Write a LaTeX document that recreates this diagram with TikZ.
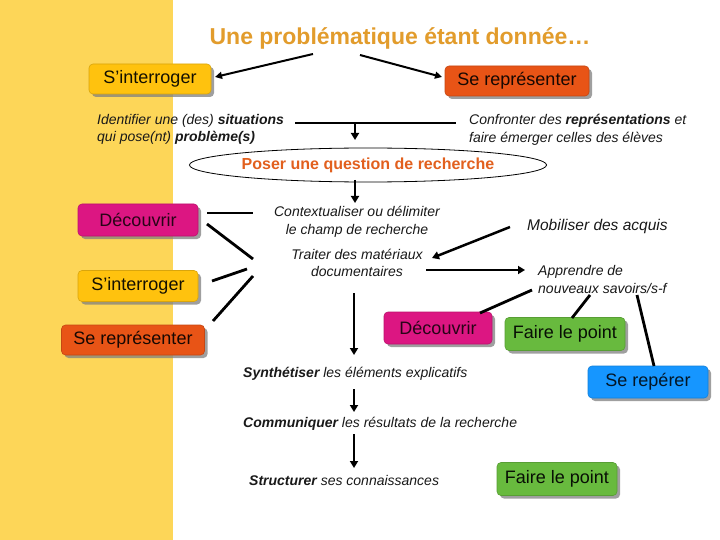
\documentclass[tikz,border=0pt]{standalone}
\usepackage{fontspec}
\setmainfont{Liberation Sans}
\usetikzlibrary{arrows.meta,shadows,shapes.geometric}
\definecolor{band}{RGB}{253,214,88}
\definecolor{titlec}{RGB}{226,156,44}
\definecolor{yel}{RGB}{255,194,14}
\definecolor{ora}{RGB}{232,84,22}
\definecolor{pnk}{RGB}{220,22,130}
\definecolor{grn}{RGB}{104,186,62}
\definecolor{blu}{RGB}{22,150,255}
\definecolor{poser}{RGB}{226,96,30}
\tikzset{
  box/.style={rounded corners=4pt, inner sep=0pt, line width=0.6pt,
    font=\fontsize{18}{20}\selectfont,
    drop shadow={shadow xshift=3pt, shadow yshift=-3pt, fill=black!50, opacity=0.75}},
  ybox/.style={box, fill=yel, draw=yel!85!black, text=black!92!yel},
  obox/.style={box, fill=ora, draw=ora!85!black, text=black!90!ora},
  pbox/.style={box, fill=pnk, draw=pnk!85!black, text=black!82!pnk},
  gbox/.style={box, fill=grn, draw=grn!85!black, text=black!92!grn},
  bbox/.style={box, fill=blu, draw=blu!85!black, text=black!85!blu},
  itx/.style={font=\fontsize{14}{16}\selectfont\itshape, inner sep=0pt, anchor=base west, text=black!90},
  itc/.style={itx, anchor=base},
  conn/.style={line width=2.8pt},
  arr/.style={line width=2.5pt, -{Triangle[length=7pt,width=8pt]}},
  tarr/.style={line width=2pt, -{Triangle[length=7pt,width=7pt]}}
}
\begin{document}
\begin{tikzpicture}[x=1pt,y=-1pt]
\useasboundingbox (0,0) rectangle (720,540);
\fill[white] (0,0) rectangle (720,540);
\fill[band] (0,0) rectangle (173,540);

% title
\node[font=\fontsize{23}{26}\selectfont\bfseries, text=titlec, inner sep=0pt, anchor=base] (title) at (400,45) {Une problématique étant donnée…};

% boxes
\node[ybox, minimum width=122pt, minimum height=30pt] (sint1) at (150,79) {S’interroger};
\node[obox, minimum width=144pt, minimum height=30pt] (srep1) at (517,81) {Se représenter};
\node[pbox, minimum width=120pt, minimum height=32pt] (dec1) at (138,220) {Découvrir};
\node[ybox, minimum width=120pt, minimum height=31pt] (sint2) at (138,286) {S’interroger};
\node[obox, minimum width=143pt, minimum height=30pt] (srep2) at (133,340) {Se représenter};
\node[pbox, minimum width=108pt, minimum height=32pt] (dec2) at (438,328) {Découvrir};
\node[gbox, minimum width=120pt, minimum height=33pt] (fp1) at (565,334) {Faire le point};
\node[bbox, minimum width=120pt, minimum height=32pt] (srep3) at (648,382) {Se repérer};
\node[gbox, minimum width=120pt, minimum height=33pt] (fp2) at (557,479) {Faire le point};

% italic texts
\node[itx] (id1) at (97,125) {Identifier une (des) \textbf{situations}};
\node[itx] (id2) at (97,142) {qui pose(nt) \textbf{problème(s)}};
\node[itx] (cf1) at (469,125) {Confronter des \textbf{représentations} et};
\node[itx] (cf2) at (469,143) {faire émerger celles des élèves};
\node[itc] (ct1) at (357,217) {Contextualiser ou délimiter};
\node[itc] (ct2) at (357,234) {le champ de recherche};
\node[itx, font=\fontsize{15.5}{17}\selectfont\itshape] (mob) at (527,230) {Mobiliser des acquis};
\node[itc] (tr1) at (357,259) {Traiter des matériaux};
\node[itc] (tr2) at (357,276) {documentaires};
\node[itx] (ap1) at (538,275) {Apprendre de};
\node[itx] (ap2) at (538,293) {nouveaux savoirs/s-f};
\node[itx] (syn) at (243,377) {\textbf{Synthétiser} les éléments explicatifs};
\node[itx] (com) at (243,427) {\textbf{Communiquer} les résultats de la recherche};
\node[itx] (str) at (249,485) {\textbf{Structurer} ses connaissances};

% ellipse
\node[ellipse, draw, line width=0.8pt, minimum width=272pt, minimum height=34pt, inner sep=0pt,
  font=\fontsize{16}{18}\selectfont\bfseries, text=poser] (q) at (368,165) {Poser une question de recherche};

% coordinates
\coordinate (tl) at (313,54);
\coordinate (tle) at (215,77);
\coordinate (tr) at (360,55);
\coordinate (tre) at (442,77);
\coordinate (ha) at (295,123);
\coordinate (hb) at (456,123);
\coordinate (hm) at (355,123);
\coordinate (hq) at (355,140);
\coordinate (qa) at (355,180);
\coordinate (qb) at (355,203);
\coordinate (d1a) at (207,213);
\coordinate (d1b) at (253,213);
\coordinate (d1c) at (207,224);
\coordinate (d1d) at (253,259);
\coordinate (s2a) at (212,281);
\coordinate (s2b) at (247,269);
\coordinate (r2a) at (213,321);
\coordinate (r2b) at (253,276);
\coordinate (ma) at (510,227);
\coordinate (mb) at (432,258);
\coordinate (ta) at (426,270);
\coordinate (tb) at (525,270);
\coordinate (va) at (354,293);
\coordinate (vb) at (354,355);
\coordinate (aa) at (532,290);
\coordinate (ab) at (480,313);
\coordinate (ac) at (590,295);
\coordinate (ad) at (572,318);
\coordinate (ae) at (637,295);
\coordinate (af) at (654,366);
\coordinate (sa) at (354,389);
\coordinate (sb) at (354,412);
\coordinate (ca) at (354,434);
\coordinate (cb) at (354,468);

% connectors
\draw[tarr] (tl) -- (tle);
\draw[tarr] (tr) -- (tre);
\draw[conn] (ha) -- (hb);
\draw[arr] (hm) -- (hq);
\draw[arr] (qa) -- (qb);
\draw[conn] (d1a) -- (d1b);
\draw[conn] (d1c) -- (d1d);
\draw[conn] (s2a) -- (s2b);
\draw[conn] (r2a) -- (r2b);
\draw[arr] (ma) -- (mb);
\draw[arr] (ta) -- (tb);
\draw[arr] (va) -- (vb);
\draw[conn] (aa) -- (ab);
\draw[conn] (ac) -- (ad);
\draw[conn] (ae) -- (af);
\draw[arr] (sa) -- (sb);
\draw[arr] (ca) -- (cb);
\end{tikzpicture}
\end{document}
